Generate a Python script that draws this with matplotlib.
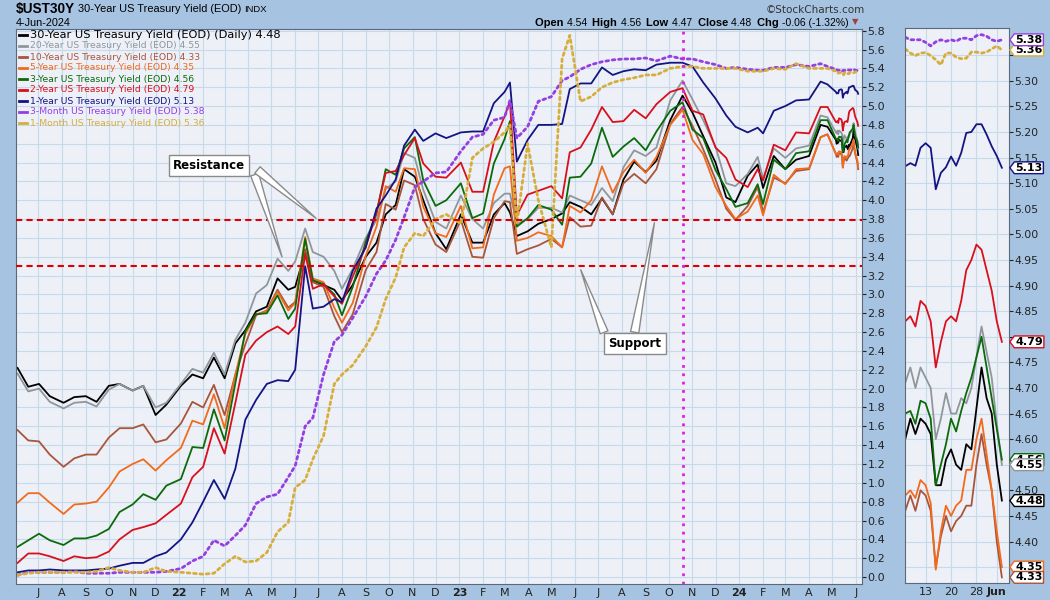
import matplotlib
matplotlib.use("Agg")
import matplotlib.pyplot as plt
import pandas as pd
import numpy as np
from matplotlib.transforms import blended_transform_factory as btf
from matplotlib.lines import Line2D
from matplotlib.path import Path

# ---------------- data ----------------
main_dates = [
    "2021-06-04","2021-06-18","2021-07-02","2021-07-16","2021-08-03","2021-08-17","2021-09-01","2021-09-15","2021-10-01","2021-10-15",
    "2021-11-01","2021-11-15","2021-12-01","2021-12-15","2022-01-03","2022-01-18","2022-02-01","2022-02-15","2022-03-01","2022-03-15",
    "2022-03-28","2022-04-11","2022-04-25","2022-05-09","2022-05-23","2022-06-01","2022-06-14","2022-06-24","2022-07-08","2022-07-22",
    "2022-08-01","2022-08-15","2022-09-01","2022-09-15","2022-09-27","2022-10-10","2022-10-21","2022-11-04","2022-11-15","2022-12-01",
    "2022-12-15","2023-01-03","2023-01-18","2023-02-01","2023-02-15","2023-03-01","2023-03-08","2023-03-17","2023-03-31","2023-04-14",
    "2023-05-01","2023-05-15","2023-05-25","2023-06-08","2023-06-22","2023-07-06","2023-07-20","2023-08-03","2023-08-17","2023-09-01",
    "2023-09-15","2023-10-03","2023-10-19","2023-11-01","2023-11-15","2023-12-01","2023-12-15","2023-12-27","2024-01-12","2024-01-25",
    "2024-02-01","2024-02-15","2024-03-01","2024-03-15","2024-04-01","2024-04-16","2024-04-25","2024-05-06"]

y30 = [2.22,2.02,2.05,1.92,1.85,1.91,1.92,1.86,2.03,2.05,
       1.98,2.03,1.72,1.83,2.03,2.15,2.11,2.33,2.11,2.48,
       2.62,2.82,2.87,3.17,3.05,3.08,3.45,3.15,3.10,3.05,
       2.94,3.10,3.40,3.55,3.85,3.95,4.33,4.25,4.00,3.65,
       3.48,3.85,3.55,3.55,3.85,3.97,3.87,3.62,3.67,3.75,
       3.80,3.86,3.98,3.93,3.85,4.02,3.85,4.22,4.41,4.30,
       4.42,4.85,5.11,4.93,4.68,4.40,4.03,3.98,4.26,4.38,
       4.13,4.47,4.33,4.43,4.47,4.80,4.78,4.64]
y20 = [2.16,1.97,2.00,1.86,1.79,1.85,1.86,1.81,1.99,2.05,
       1.98,2.03,1.80,1.85,2.05,2.21,2.17,2.38,2.15,2.52,
       2.70,3.01,3.10,3.38,3.25,3.35,3.70,3.45,3.40,3.25,
       3.06,3.27,3.60,3.79,4.12,4.20,4.50,4.45,4.11,3.77,
       3.70,4.05,3.80,3.70,3.97,4.07,4.07,3.75,3.80,3.92,
       3.92,3.87,4.05,4.00,3.95,4.13,3.99,4.35,4.53,4.47,
       4.56,5.06,5.27,5.07,4.85,4.57,4.18,4.15,4.28,4.46,
       4.23,4.55,4.45,4.55,4.58,4.90,4.88,4.72]
y10 = [1.56,1.45,1.44,1.30,1.17,1.26,1.30,1.30,1.48,1.58,
       1.58,1.62,1.43,1.46,1.63,1.86,1.80,2.04,1.72,2.15,
       2.47,2.78,2.83,3.05,2.86,2.92,3.48,3.13,3.08,2.77,
       2.60,2.79,3.26,3.45,3.96,3.90,4.21,4.16,3.80,3.53,
       3.45,3.79,3.40,3.39,3.81,3.99,3.98,3.43,3.48,3.52,
       3.59,3.50,3.82,3.72,3.73,4.03,3.85,4.18,4.28,4.18,
       4.33,4.81,4.99,4.79,4.54,4.22,3.91,3.79,3.94,4.14,
       3.87,4.24,4.18,4.31,4.33,4.67,4.70,4.49]
y5 = [0.79,0.89,0.89,0.79,0.67,0.77,0.78,0.80,0.95,1.12,
      1.20,1.25,1.13,1.24,1.37,1.66,1.62,1.94,1.58,2.15,
      2.58,2.79,2.82,3.03,2.83,2.91,3.61,3.17,3.13,2.86,
      2.70,2.91,3.41,3.72,4.15,4.09,4.34,4.33,3.93,3.65,
      3.61,3.94,3.49,3.50,4.06,4.34,4.36,3.57,3.60,3.66,
      3.62,3.50,3.94,3.87,4.00,4.36,4.08,4.30,4.43,4.29,
      4.46,4.80,4.96,4.64,4.49,4.14,3.94,3.80,3.88,4.05,
      3.84,4.27,4.17,4.33,4.34,4.67,4.70,4.49]
y3 = [0.32,0.39,0.46,0.39,0.34,0.41,0.41,0.44,0.51,0.69,
      0.77,0.88,0.82,0.97,1.04,1.38,1.37,1.78,1.45,2.06,
      2.61,2.79,2.80,2.99,2.74,2.85,3.59,3.15,3.11,3.00,
      2.78,3.08,3.56,3.86,4.33,4.27,4.55,4.67,4.21,3.94,
      4.00,4.18,3.81,3.86,4.39,4.65,4.84,3.72,3.81,3.95,
      3.90,3.74,4.24,4.25,4.39,4.77,4.46,4.57,4.66,4.53,
      4.73,4.95,5.04,4.75,4.66,4.32,4.12,3.93,3.97,4.17,
      3.96,4.43,4.33,4.50,4.52,4.85,4.85,4.65]
y2 = [0.15,0.25,0.25,0.22,0.17,0.22,0.20,0.21,0.27,0.40,
      0.50,0.53,0.57,0.66,0.78,1.06,1.17,1.58,1.31,1.85,
      2.36,2.51,2.60,2.66,2.58,2.66,3.43,3.06,3.11,2.98,
      2.90,3.19,3.51,3.87,4.29,4.31,4.48,4.66,4.39,4.25,
      4.24,4.40,4.09,4.09,4.62,4.89,5.05,3.84,4.06,4.10,
      4.15,4.02,4.51,4.56,4.75,4.99,4.83,4.84,4.96,4.87,
      5.02,5.15,5.19,4.95,4.91,4.56,4.45,4.22,4.14,4.33,
      4.21,4.59,4.53,4.72,4.71,4.99,4.99,4.83]
y1 = [0.05,0.07,0.07,0.08,0.07,0.07,0.07,0.08,0.09,0.12,
      0.15,0.15,0.22,0.26,0.40,0.58,0.80,1.03,0.83,1.15,
      1.67,1.88,2.05,2.09,2.08,2.20,3.30,2.85,2.87,2.95,
      2.92,3.25,3.50,3.91,4.05,4.22,4.58,4.75,4.63,4.71,
      4.66,4.72,4.73,4.73,5.03,5.15,5.25,4.41,4.64,4.80,
      4.80,4.81,5.18,5.24,5.24,5.41,5.33,5.37,5.39,5.38,
      5.44,5.46,5.46,5.42,5.25,5.08,4.90,4.78,4.72,4.77,
      4.71,4.95,5.00,5.06,5.07,5.26,5.23,5.15]
y3m = [0.02,0.05,0.05,0.05,0.05,0.06,0.04,0.04,0.04,0.05,
       0.05,0.05,0.05,0.06,0.09,0.17,0.22,0.39,0.33,0.44,
       0.55,0.78,0.85,0.88,1.06,1.18,1.60,1.69,2.15,2.50,
       2.57,2.75,2.98,3.22,3.36,3.58,3.82,4.14,4.20,4.29,
       4.30,4.52,4.67,4.70,4.85,4.88,5.06,4.66,4.78,5.05,
       5.10,5.27,5.31,5.39,5.44,5.47,5.49,5.50,5.50,5.51,
       5.48,5.53,5.50,5.50,5.47,5.44,5.40,5.41,5.39,5.38,
       5.38,5.41,5.41,5.44,5.42,5.45,5.42,5.39]
y1m = [0.02,0.04,0.05,0.05,0.05,0.05,0.05,0.06,0.10,0.07,
       0.05,0.05,0.10,0.06,0.05,0.04,0.03,0.04,0.14,0.22,
       0.16,0.17,0.26,0.48,0.58,0.95,1.03,1.25,1.50,2.05,
       2.15,2.25,2.45,2.65,2.95,3.18,3.50,3.65,3.62,3.80,
       3.85,3.75,4.45,4.55,4.62,4.72,4.80,3.75,4.60,4.00,
       3.50,5.50,5.75,5.05,5.10,5.20,5.25,5.28,5.30,5.33,
       5.33,5.40,5.42,5.42,5.40,5.40,5.40,5.40,5.37,5.37,
       5.37,5.40,5.39,5.45,5.40,5.40,5.40,5.37]

side_dates = ["2024-05-07","2024-05-08","2024-05-09","2024-05-10","2024-05-13","2024-05-14","2024-05-15",
              "2024-05-16","2024-05-17","2024-05-20","2024-05-21","2024-05-22","2024-05-23","2024-05-24",
              "2024-05-28","2024-05-29","2024-05-30","2024-05-31","2024-06-03","2024-06-04"]
s30 = [4.60,4.64,4.61,4.64,4.63,4.61,4.51,4.51,4.56,4.58,4.55,4.54,4.59,4.58,4.66,4.74,4.68,4.65,4.55,4.48]
s20 = [4.71,4.74,4.70,4.74,4.72,4.70,4.60,4.64,4.69,4.65,4.65,4.68,4.67,4.70,4.76,4.82,4.77,4.72,4.63,4.55]
s10 = [4.46,4.49,4.46,4.50,4.49,4.46,4.35,4.41,4.45,4.42,4.44,4.45,4.47,4.47,4.55,4.61,4.55,4.50,4.40,4.33]
s5 = [4.49,4.50,4.485,4.52,4.51,4.475,4.345,4.42,4.47,4.45,4.47,4.48,4.54,4.54,4.60,4.64,4.57,4.50,4.42,4.35]
s3 = [4.65,4.655,4.63,4.675,4.67,4.64,4.51,4.55,4.59,4.64,4.615,4.655,4.69,4.72,4.76,4.80,4.74,4.68,4.62,4.56]
s2 = [4.83,4.84,4.82,4.87,4.86,4.83,4.74,4.79,4.83,4.84,4.83,4.87,4.93,4.95,4.98,4.97,4.93,4.89,4.83,4.79]
s1 = [5.133,5.139,5.134,5.169,5.178,5.169,5.088,5.120,5.131,5.152,5.134,5.159,5.198,5.200,5.215,5.215,5.195,5.172,5.153,5.13]
s3m = [5.385,5.38,5.38,5.38,5.375,5.368,5.376,5.38,5.377,5.38,5.377,5.383,5.383,5.38,5.388,5.39,5.387,5.38,5.377,5.38]
s1m = [5.362,5.354,5.349,5.354,5.355,5.349,5.341,5.331,5.354,5.354,5.346,5.343,5.344,5.356,5.356,5.354,5.356,5.362,5.368,5.36]

names = ["30-Year US Treasury Yield (EOD) (Daily)", "20-Year US Treasury Yield (EOD)",
         "10-Year US Treasury Yield (EOD)", "5-Year US Treasury Yield (EOD)",
         "3-Year US Treasury Yield (EOD)", "2-Year US Treasury Yield (EOD)",
         "1-Year US Treasury Yield (EOD)", "3-Month US Treasury Yield (EOD)",
         "1-Month US Treasury Yield (EOD)"]
main_series = [y30, y20, y10, y5, y3, y2, y1, y3m, y1m]
side_series = [s30, s20, s10, s5, s3, s2, s1, s3m, s1m]
colors = ["#000000", "#8f979b", "#a8553a", "#f26a1b", "#0b6b0b", "#d8101c", "#141482", "#9440e0", "#d6ae3c"]
dotted = [False]*7 + [True, True]

support_levels = [3.79, 3.30]
marker_date = "2023-10-20"
side_tick_labels = ["13", "20", "28", "Jun"]
side_tick_pos = [4, 9, 14, 18]

# ---------------- figure ----------------
W, H = 1050, 600
BG = "#a6c4e2"
PBG = "#eef0f8"
GRID = "#c6dbea"
fig = plt.figure(figsize=(W/100, H/100), dpi=100)
fig.patch.set_facecolor(BG)

ax = fig.add_axes([16/W, 16/H, 846/W, 555/H])
ax2 = fig.add_axes([905/W, 17/H, 104/W, 555/H])
for a in (ax, ax2):
    a.set_facecolor(PBG)
    for s in a.spines.values():
        s.set_color("#5a6a7a"); s.set_linewidth(0.8)

md = pd.to_datetime(main_dates + side_dates)
for vals_m, vals_s, c, dt in zip(main_series, side_series, colors, dotted):
    v = list(vals_m) + list(vals_s)
    if dt:
        ax.plot(md, v, color=c, lw=2.0, ls=(0, (1, 1.3)), dash_capstyle="round")
    else:
        ax.plot(md, v, color=c, lw=1.3)

for lvl in support_levels:
    ax.axhline(lvl, color="#dd0000", lw=1.5, ls=(0, (3, 2)), zorder=5)
ax.axvline(pd.Timestamp(marker_date), color="#e020e0", lw=2.0, ls=(0, (1, 2)), zorder=5)

ax.set_xlim(pd.Timestamp("2021-06-02"), pd.Timestamp("2024-06-09"))
ax.set_ylim(-0.074, 5.818)
ax.yaxis.tick_right()
yt = np.round(np.arange(0, 5.81, 0.2), 1)
ax.set_yticks(yt)
ax.set_yticklabels([f"{t:.1f}" for t in yt])
ax.tick_params(axis="y", direction="out", length=3, width=0.8, pad=1, labelsize=8, colors="#222222")
mstarts = pd.date_range("2021-07-01", "2024-06-01", freq="MS")
ax.set_xticks(mstarts)
labs = [(f"{d.year % 100:02d}" if d.month == 1 else d.strftime("%b")[0]) for d in mstarts]
ax.set_xticklabels(labs)
for t, d in zip(ax.get_xticklabels(), mstarts):
    if d.month == 1:
        t.set_fontweight("bold")
ax.tick_params(axis="x", length=0, pad=3, labelsize=8, colors="#222222")
ax.grid(True, color=GRID, lw=0.8)
ax.set_axisbelow(True)

# legend rows
tr = ax.transAxes
for i, (nm, vs, c) in enumerate(zip(names, side_series, colors)):
    ypx = 35 + 11 * i
    yf = 1 - (ypx - 29) / 555
    x0 = (19 - 16) / 846; x1 = (27 - 16) / 846
    ax.add_line(Line2D([x0, x1], [yf, yf], transform=tr, color=c, lw=2, clip_on=False))
    ax.text((30 - 16) / 846, yf, f"{nm} {vs[-1]:.2f}", transform=tr, va="center", ha="left",
            fontsize=8.2 if i == 0 else 6.7, color=c)

# annotations
def callout(label, center, tails, tips):
    for (td, tv), (pd_, pv) in zip(tails, tips):
        ax.annotate("", xy=(pd.Timestamp(pd_), pv), xytext=(pd.Timestamp(td), tv),
                    arrowprops=dict(arrowstyle="wedge,tail_width=0.6,shrink_factor=0.5",
                                    fc="white", ec="#8a8a8a", lw=1), zorder=6)
    ax.text(pd.Timestamp(center[0]), center[1], label, ha="center", va="center", fontsize=8.5,
            fontweight="bold", zorder=7,
            bbox=dict(boxstyle="square,pad=0.35", fc="white", ec="#8a8a8a", lw=1))

callout("Resistance", ("2022-02-09", 4.37),
        [("2022-04-08", 4.30), ("2022-04-10", 4.34)],
        [("2022-05-16", 3.37), ("2022-07-01", 3.79)])
callout("Support", ("2023-08-18", 2.48),
        [("2023-07-10", 2.57), ("2023-08-17", 2.57)],
        [("2023-06-07", 3.29), ("2023-09-13", 3.79)])

# ---------------- side panel ----------------
idx = np.arange(len(side_dates))
for vs, c, dt in zip(side_series, colors, dotted):
    if dt:
        ax2.plot(idx, vs, color=c, lw=2.0, ls=(0, (1, 1.3)), dash_capstyle="round")
    else:
        ax2.plot(idx, vs, color=c, lw=1.3)
ax2.set_xlim(-0.05, 20.4)
ax2.set_ylim(4.319, 5.403)
ax2.yaxis.tick_right()
sticks = np.round(np.arange(4.35, 5.351, 0.05), 2)
tag_vals = [vs[-1] for vs in side_series]
ax2.set_yticks(sticks)
ax2.set_yticklabels(["" if min(abs(t - v) for v in tag_vals) < 0.015 else f"{t:.2f}" for t in sticks])
ax2.tick_params(axis="y", direction="out", length=3, width=0.8, pad=1, labelsize=7.8, colors="#222222")
ax2.set_xticks(side_tick_pos)
ax2.set_xticklabels(side_tick_labels)
ax2.get_xticklabels()[-1].set_fontweight("bold")
ax2.tick_params(axis="x", length=0, pad=3, labelsize=8, colors="#222222")
ax2.grid(True, color=GRID, lw=0.8)
ax2.set_axisbelow(True)

# value tags (box with a left-pointing notch)
def tag_box(x0, y0, width, height, mutation_size):
    pad = 0.08 * mutation_size
    x0 -= pad; y0 -= pad
    w = width + 2 * pad; h = height + 2 * pad
    n = h * 0.38
    verts = [(x0 - n, y0 + h / 2), (x0, y0 + h), (x0 + w, y0 + h), (x0 + w, y0), (x0, y0),
             (x0 - n, y0 + h / 2)]
    return Path(verts, closed=True)

tb = btf(ax2.transAxes, ax2.transData)
order = [8, 7, 6, 5, 4, 1, 0, 3, 2]
for k in order:
    vs = side_series[k]
    ax2.text(1.06, vs[-1], f"{vs[-1]:.2f}", transform=tb, ha="left", va="center", fontsize=8,
             fontweight="bold", color="black", clip_on=False, zorder=10,
             bbox=dict(boxstyle=tag_box, fc="white", ec=colors[k], lw=1))

# ---------------- header texts ----------------
renderer = fig.canvas.get_renderer()

def run(x, y, pieces):
    for s, kw in pieces:
        t = fig.text(x/W, 1 - y/H, s, va="center", ha="left", **kw)
        x += t.get_window_extent(renderer=renderer).width
    return x

run(16, 9.5, [("$UST30Y", dict(fontsize=9.8, fontweight="bold", family="Liberation Sans")),
              (" 30-Year US Treasury Yield (EOD) ", dict(fontsize=7.9, family="Liberation Sans")),
              ("INDX", dict(fontsize=6.8, family="Liberation Sans"))])
fig.text(16/W, 1 - 22.5/H, "4-Jun-2024", fontsize=7.8, va="center", ha="left", family="Liberation Sans")
fig.text(865/W, 1 - 10/H, "\u00a9StockCharts.com", fontsize=7.5, va="center", ha="right", color="#333333")

B = dict(fontsize=8, fontweight="bold", family="Liberation Sans")
N = dict(fontsize=7.5, family="Liberation Sans")
x_end = run(535, 23, [("Open ", B), ("4.54  ", N), ("High ", B), ("4.56  ", N), ("Low ", B),
                      ("4.47  ", N), ("Close ", B), ("4.48  ", N), ("Chg ", B), ("-0.06 (-1.32%)", N)])
fig.text((x_end + 4)/W, 1 - 22/H, "\u25bc", fontsize=6, color="#a04040", va="center", ha="left")

fig.savefig("out.png", dpi=100, facecolor=fig.get_facecolor())
